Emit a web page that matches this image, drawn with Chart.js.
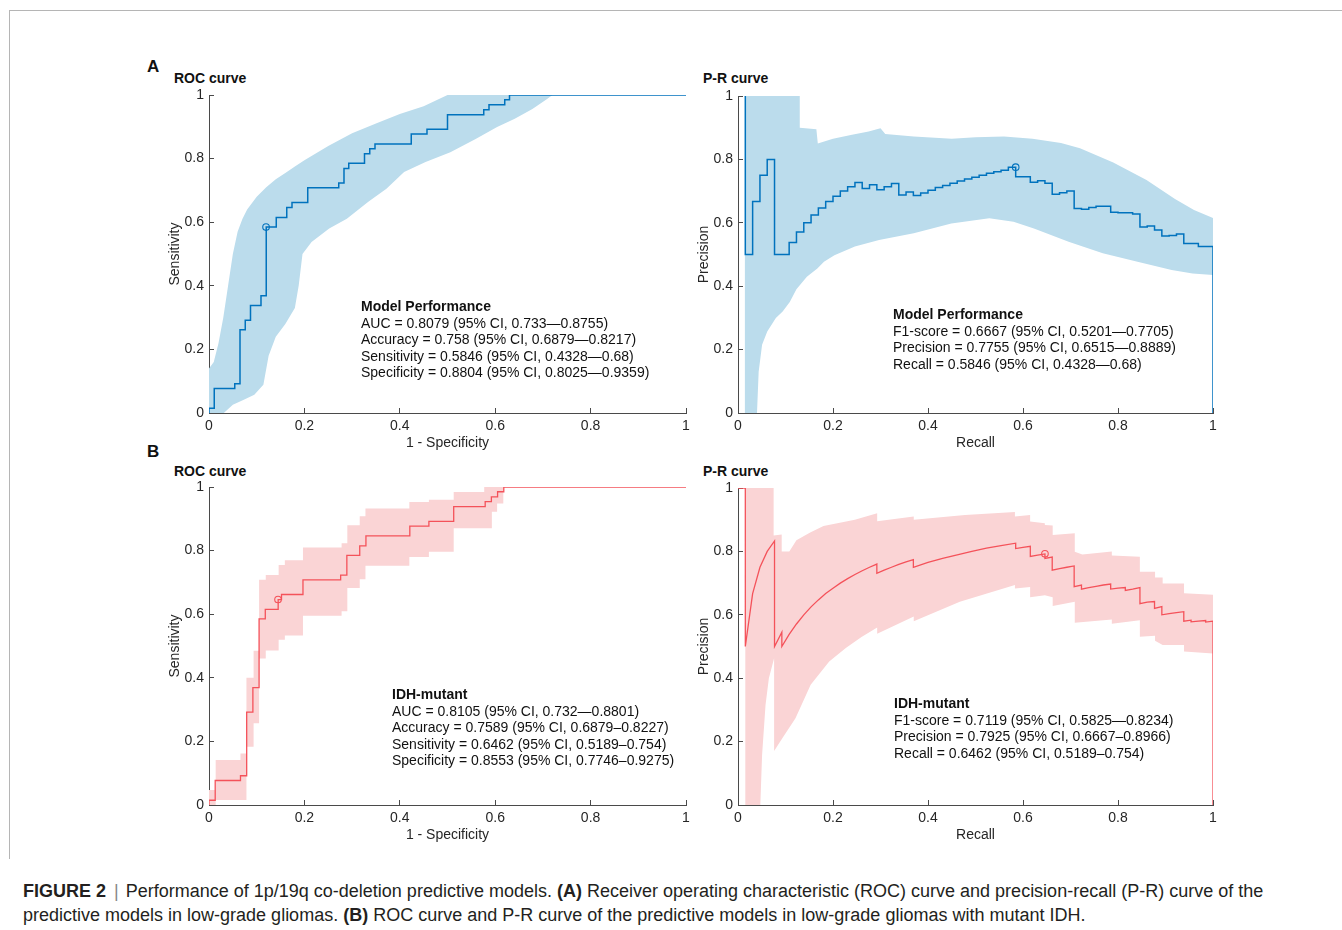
<!DOCTYPE html>
<html>

<head>
    <meta charset="utf-8">
    <title>Figure 2 - ROC and P-R curves</title>
    <script src="https://cdn.jsdelivr.net/npm/chart.js@4.4.1/dist/chart.umd.min.js"></script>
</head>

<style>
    body {
        margin: 0;
        background: #fff;
        font-family: "Liberation Sans", Arial, sans-serif;
        color: #111;
    }

    #page {
        position: relative;
        width: 1342px;
        height: 930px;
        overflow: hidden;
    }

    #frame {
        position: absolute;
        left: 9px;
        top: 10px;
        width: 1340px;
        height: 848px;
        border-left: 1px solid #b5b5b5;
        border-top: 1px solid #b5b5b5;
    }

    canvas {
        position: absolute;
    }

    .letter {
        position: absolute;
        font-weight: bold;
        font-size: 17px;
        line-height: 20px;
    }

    .ptitle {
        position: absolute;
        font-weight: bold;
        font-size: 14px;
        line-height: 16px;
    }

    .stats {
        position: absolute;
        font-size: 14px;
        line-height: 16.5px;
        white-space: pre;
    }

    #caption {
        position: absolute;
        left: 23px;
        top: 879px;
        font-size: 18px;
        line-height: 24px;
        color: #231f20;
        white-space: nowrap;
    }

    #caption .bar {
        color: #888;
        padding: 0 7px 0 8px;
    }
</style>

<body>
    <div id="page">
        <div id="frame"></div>

        <div class="letter" style="left:147px; top:57px;">A</div>
        <div class="letter" style="left:147px; top:442px;">B</div>

        <div class="ptitle" style="left:174px; top:70px;">ROC curve</div>
        <div class="ptitle" style="left:703px; top:70px;">P-R curve</div>
        <div class="ptitle" style="left:174px; top:463px;">ROC curve</div>
        <div class="ptitle" style="left:703px; top:463px;">P-R curve</div>

        <canvas id="rocA"></canvas>
        <canvas id="prA"></canvas>
        <canvas id="rocB"></canvas>
        <canvas id="prB"></canvas>

        <div class="stats" style="left:361px; top:298px;"><b>Model Performance</b>
AUC = 0.8079 (95% CI, 0.733—0.8755)
Accuracy = 0.758 (95% CI, 0.6879—0.8217)
Sensitivity = 0.5846 (95% CI, 0.4328—0.68)
Specificity = 0.8804 (95% CI, 0.8025—0.9359)</div>

        <div class="stats" style="left:893px; top:306px;"><b>Model Performance</b>
F1-score = 0.6667 (95% CI, 0.5201—0.7705)
Precision = 0.7755 (95% CI, 0.6515—0.8889)
Recall = 0.5846 (95% CI, 0.4328—0.68)</div>

        <div class="stats" style="left:392px; top:686px;"><b>IDH-mutant</b>
AUC = 0.8105 (95% CI, 0.732—0.8801)
Accuracy = 0.7589 (95% CI, 0.6879–0.8227)
Sensitivity = 0.6462 (95% CI, 0.5189–0.754)
Specificity = 0.8553 (95% CI, 0.7746–0.9275)</div>

        <div class="stats" style="left:894px; top:695px;"><b>IDH-mutant</b>
F1-score = 0.7119 (95% CI, 0.5825—0.8234)
Precision = 0.7925 (95% CI, 0.6667–0.8966)
Recall = 0.6462 (95% CI, 0.5189–0.754)</div>

        <div id="caption"><b>FIGURE 2</b><span class="bar">|</span>Performance of 1p/19q co-deletion predictive models. <b>(A)</b> Receiver operating characteristic (ROC) curve and precision-recall (P-R) curve of the<br>predictive models in low-grade gliomas. <b>(B)</b> ROC curve and P-R curve of the predictive models in low-grade gliomas with mutant IDH.</div>
    </div>

    <script>
        // tick labels shared by every axis
        const tickVals = [0, 0.2, 0.4, 0.6, 0.8, 1];

        // A: ROC curve (step points: x where the jump happens, level after it)
        const rocA_fpr = [0, 0, 0.011, 0.054, 0.065, 0.076, 0.087, 0.109, 0.120, 0.141, 0.163, 0.174, 0.207, 0.272, 0.283, 0.293, 0.326, 0.337, 0.348, 0.424, 0.457, 0.5, 0.576, 0.587, 0.62, 0.63, 1.0];
        const rocA_tpr = [0, 0.015, 0.077, 0.092, 0.262, 0.292, 0.338, 0.369, 0.585, 0.615, 0.646, 0.662, 0.708, 0.723, 0.769, 0.785, 0.815, 0.831, 0.846, 0.877, 0.892, 0.938, 0.954, 0.969, 0.985, 1.0, 1.0];
        const rocA_cut = [0.1196, 0.5846];
        // A: ROC 95% CI band
        const rocA_hiX = [0, 0.01, 0.02, 0.03, 0.04, 0.05, 0.06, 0.07, 0.08, 0.10, 0.12, 0.14, 0.16, 0.18, 0.20, 0.25, 0.30, 0.35, 0.40, 0.45, 0.50, 0.72];
        const rocA_hiY = [0.14, 0.16, 0.22, 0.30, 0.40, 0.50, 0.57, 0.61, 0.64, 0.68, 0.71, 0.735, 0.755, 0.775, 0.795, 0.84, 0.88, 0.91, 0.94, 0.965, 1.0, 1.0];
        const rocA_loX = [0, 0.031, 0.05, 0.073, 0.095, 0.114, 0.125, 0.14, 0.16, 0.18, 0.188, 0.196, 0.215, 0.252, 0.289, 0.334, 0.372, 0.409, 0.454, 0.506, 0.559, 0.604, 0.641, 0.678, 0.708, 0.72];
        const rocA_loY = [0, 0, 0.026, 0.042, 0.057, 0.089, 0.18, 0.24, 0.28, 0.33, 0.40, 0.50, 0.538, 0.58, 0.611, 0.664, 0.705, 0.758, 0.789, 0.82, 0.862, 0.899, 0.925, 0.956, 0.987, 1.0];

        // A: P-R curve (stairs)
        const prA_rec = [0.0154, 0.0154, 0.0308, 0.0462, 0.0615, 0.0769, 0.1077, 0.1231, 0.1385, 0.1538, 0.1692, 0.1846, 0.2, 0.2154, 0.2308, 0.2462, 0.2615, 0.2769, 0.2923, 0.3077, 0.3231, 0.3385, 0.3538, 0.3692, 0.3846, 0.4, 0.4154, 0.4308, 0.4462, 0.4615, 0.4769, 0.4923, 0.5077, 0.5231, 0.5385, 0.5538, 0.5692, 0.5846, 0.6154, 0.6308, 0.6462, 0.6615, 0.6769, 0.6923, 0.7077, 0.7231, 0.7385, 0.7538, 0.7846, 0.8, 0.8308, 0.8462, 0.8615, 0.8769, 0.8923, 0.9077, 0.9231, 0.9385, 0.9692, 1.0, 1.0];
        const prA_pre = [1.0, 0.5, 0.667, 0.75, 0.8, 0.5, 0.538, 0.571, 0.6, 0.625, 0.647, 0.667, 0.684, 0.7, 0.714, 0.727, 0.708, 0.72, 0.704, 0.714, 0.724, 0.6875, 0.697, 0.686, 0.694, 0.703, 0.711, 0.718, 0.725, 0.732, 0.738, 0.744, 0.75, 0.756, 0.761, 0.766, 0.7755, 0.745, 0.728, 0.733, 0.725, 0.69, 0.695, 0.70, 0.645, 0.643, 0.648, 0.652, 0.633, 0.632, 0.628, 0.587, 0.59, 0.577, 0.558, 0.56, 0.565, 0.535, 0.525, 0.525, 0];
        const prA_cut = [0.5846, 0.7755];
        const prA_hiX = [0.0145, 0.13, 0.13, 0.165, 0.168, 0.2, 0.24, 0.275, 0.30, 0.31, 0.37, 0.45, 0.5, 0.56, 0.62, 0.68, 0.72, 0.79, 0.86, 0.92, 0.96, 0.985, 1.0];
        const prA_hiY = [1, 1, 0.90, 0.895, 0.85, 0.865, 0.878, 0.888, 0.898, 0.88, 0.872, 0.865, 0.87, 0.872, 0.865, 0.852, 0.835, 0.79, 0.735, 0.675, 0.64, 0.625, 0.615];
        const prA_loX = [0.0145, 0.04, 0.0435, 0.0507, 0.0616, 0.0797, 0.094, 0.109, 0.123, 0.145, 0.167, 0.181, 0.203, 0.246, 0.297, 0.37, 0.449, 0.529, 0.58, 0.623, 0.696, 0.768, 0.841, 0.913, 0.957, 1.0];
        const prA_loY = [0, 0, 0.13, 0.215, 0.257, 0.30, 0.32, 0.35, 0.39, 0.43, 0.456, 0.477, 0.498, 0.525, 0.546, 0.567, 0.598, 0.614, 0.603, 0.582, 0.54, 0.504, 0.477, 0.451, 0.44, 0.435];

        // B: ROC curve, IDH-mutant
        const rocB_fpr = [0, 0, 0.013, 0.066, 0.079, 0.092, 0.105, 0.118, 0.145, 0.152, 0.197, 0.276, 0.289, 0.316, 0.329, 0.421, 0.461, 0.513, 0.579, 0.592, 0.605, 0.618, 1.0];
        const rocB_tpr = [0, 0.015, 0.077, 0.092, 0.292, 0.369, 0.585, 0.615, 0.646, 0.662, 0.708, 0.723, 0.785, 0.815, 0.846, 0.877, 0.892, 0.938, 0.954, 0.969, 0.985, 1.0, 1.0];
        const rocB_cut = [0.1447, 0.6462];
        // B: ROC band, blocky: breakpoints and the upper / lower level on each interval
        const rocB_bandX = [0, 0.014, 0.066, 0.0785, 0.0935, 0.105, 0.119, 0.146, 0.159, 0.197, 0.278, 0.29, 0.316, 0.328, 0.42, 0.461, 0.513, 0.577, 0.593, 0.604, 0.617, 1];
        const rocB_bandHi = [0.047, 0.1415, 0.162, 0.40, 0.485, 0.708, 0.723, 0.755, 0.77, 0.81, 0.823, 0.88, 0.908, 0.932, 0.953, 0.96, 0.984, 1, 1, 1, 1];
        const rocB_bandLo = [0, 0.0157, 0.0157, 0.183, 0.257, 0.461, 0.486, 0.52, 0.533, 0.595, 0.609, 0.682, 0.71, 0.752, 0.78, 0.796, 0.87, 0.87, 0.922, 0.948, 1];

        // B: P-R curve (polyline)
        const prB_rec = [0, 0.0154, 0.0154, 0.0308, 0.0462, 0.0615, 0.0769, 0.0769, 0.0923, 0.0923, 0.1077, 0.1231, 0.1385, 0.1538, 0.1692, 0.1846, 0.2, 0.2154, 0.2308, 0.2462, 0.2615, 0.2769, 0.2923, 0.2923, 0.3077, 0.3231, 0.3385, 0.3538, 0.3692, 0.3692, 0.4, 0.4308, 0.4615, 0.4923, 0.5231, 0.5538, 0.5846, 0.5846, 0.6, 0.6154, 0.6154, 0.6308, 0.6462, 0.6462, 0.6615, 0.6615, 0.6769, 0.6923, 0.7077, 0.7077, 0.7231, 0.7231, 0.7385, 0.7538, 0.7692, 0.7846, 0.7846, 0.8, 0.8154, 0.8154, 0.8308, 0.8462, 0.8462, 0.8615, 0.8769, 0.8769, 0.8923, 0.8923, 0.9077, 0.9231, 0.9385, 0.9385, 0.9538, 0.9538, 0.9692, 0.9846, 0.9846, 1, 1];
        const prB_pre = [1, 1, 0.5, 0.667, 0.75, 0.8, 0.833, 0.5, 0.545, 0.5, 0.538, 0.571, 0.6, 0.625, 0.647, 0.667, 0.684, 0.7, 0.714, 0.727, 0.739, 0.75, 0.76, 0.731, 0.741, 0.75, 0.759, 0.767, 0.774, 0.75, 0.765, 0.778, 0.789, 0.8, 0.81, 0.818, 0.826, 0.809, 0.813, 0.816, 0.784, 0.788, 0.792, 0.778, 0.782, 0.741, 0.746, 0.75, 0.754, 0.689, 0.694, 0.681, 0.686, 0.69, 0.694, 0.697, 0.681, 0.684, 0.686, 0.677, 0.681, 0.686, 0.635, 0.64, 0.642, 0.62, 0.626, 0.6, 0.604, 0.607, 0.61, 0.58, 0.583, 0.578, 0.58, 0.582, 0.577, 0.58, 0];
        const prB_cut = [0.6462, 0.7925];
        const prB_hiX = [0.0154, 0.075, 0.075, 0.092, 0.092, 0.108, 0.123, 0.152, 0.18, 0.246, 0.293, 0.293, 0.37, 0.37, 0.478, 0.583, 0.583, 0.615, 0.615, 0.646, 0.646, 0.6625, 0.6625, 0.709, 0.709, 0.725, 0.787, 0.787, 0.846, 0.846, 0.878, 0.878, 0.894, 0.894, 0.939, 0.939, 1.0];
        const prB_hiY = [1, 1, 0.85, 0.853, 0.80, 0.80, 0.835, 0.86, 0.88, 0.90, 0.92, 0.895, 0.91, 0.90, 0.915, 0.924, 0.91, 0.915, 0.894, 0.889, 0.883, 0.882, 0.852, 0.857, 0.799, 0.79, 0.80, 0.787, 0.783, 0.736, 0.736, 0.718, 0.718, 0.699, 0.699, 0.668, 0.663];
        const prB_loX = [0.0154, 0.047, 0.0507, 0.058, 0.065, 0.076, 0.076, 0.093, 0.121, 0.153, 0.192, 0.227, 0.26, 0.293, 0.293, 0.37, 0.37, 0.467, 0.583, 0.583, 0.615, 0.615, 0.646, 0.6625, 0.6625, 0.709, 0.709, 0.787, 0.787, 0.846, 0.846, 0.878, 0.878, 0.894, 0.939, 0.939, 1.0];
        const prB_loY = [0, 0, 0.158, 0.316, 0.40, 0.463, 0.17, 0.21, 0.274, 0.379, 0.453, 0.495, 0.53, 0.56, 0.54, 0.595, 0.58, 0.641, 0.694, 0.683, 0.688, 0.655, 0.662, 0.655, 0.628, 0.641, 0.575, 0.585, 0.572, 0.583, 0.531, 0.534, 0.518, 0.505, 0.505, 0.484, 0.478];

        const BLUE = "#0072BD";
        const BLUE_BAND = "#BBDCEC";
        const RED = "#F4525A";
        const RED_BAND = "#FAD4D5";
        const AXIS = "#4a4a4a";

        Chart.defaults.font.family = "'Liberation Sans', Arial, sans-serif";
        Chart.defaults.font.size = 14;
        Chart.defaults.color = "#262626";

        function pts(xs, ys) {
            return xs.map((x, i) => ({ x: x, y: ys[i] }));
        }

        // closed outline: upper edge left to right, lower edge back
        function loop(hx, hy, lx, ly) {
            const p = pts(hx, hy);
            for (let i = lx.length - 1; i >= 0; i--) p.push({ x: lx[i], y: ly[i] });
            return p;
        }

        // same thing for a band given as flat levels between breakpoints
        function stepLoop(xs, hi, lo) {
            const p = [];
            for (let i = 0; i < hi.length; i++) {
                p.push({ x: xs[i], y: hi[i] }, { x: xs[i + 1], y: hi[i] });
            }
            for (let i = lo.length - 1; i >= 0; i--) {
                p.push({ x: xs[i + 1], y: lo[i] }, { x: xs[i], y: lo[i] });
            }
            return p;
        }

        function axis(title, isY) {
            return {
                type: "linear",
                min: 0,
                max: 1,
                afterBuildTicks: (s) => { s.ticks = tickVals.map(v => ({ value: v })); },
                afterFit: (s) => { if (isY) s.width = 59; else s.height = 40; },
                border: { display: true, color: AXIS, width: 1 },
                grid: { display: true, drawOnChartArea: false, drawTicks: true, tickLength: -5, color: AXIS, lineWidth: 1 },
                ticks: {
                    padding: 10,
                    color: "#262626",
                    font: { size: 14 },
                    callback: (v) => String(+Number(v).toFixed(1))
                },
                title: {
                    display: true,
                    text: title,
                    color: "#262626",
                    font: { size: 14 },
                    padding: isY ? { top: 17, bottom: 0 } : { top: 0, bottom: 1 }
                }
            };
        }

        // area = [left, top, right, bottom] of the plot box on the page
        function panel(id, area, xTitle, yTitle, color, bandColor, curve, stepped, band, cut, lineWidth) {
            const cv = document.getElementById(id);
            const left = area[0] - 59, top = area[1] - 20;
            cv.style.left = left + "px";
            cv.style.top = top + "px";
            cv.width = area[2] + 15 - left;
            cv.height = area[3] + 40 - top;

            return new Chart(cv.getContext("2d"), {
                type: "scatter",
                data: {
                    datasets: [
                        {
                            data: [{ x: cut[0], y: cut[1] }],
                            showLine: false,
                            pointRadius: 3.3,
                            pointBorderWidth: 1.1,
                            pointBorderColor: color,
                            pointBackgroundColor: "rgba(0,0,0,0)"
                        },
                        {
                            data: curve,
                            showLine: true,
                            stepped: stepped,
                            borderColor: color,
                            borderWidth: lineWidth,
                            pointRadius: 0,
                            fill: false
                        },
                        {
                            data: band,
                            showLine: true,
                            borderColor: "rgba(0,0,0,0)",
                            borderWidth: 0,
                            pointRadius: 0,
                            backgroundColor: bandColor,
                            fill: "shape"
                        }
                    ]
                },
                options: {
                    responsive: false,
                    animation: false,
                    events: [],
                    // room for the half-height of the top tick label plus its padding
                    layout: { padding: { left: 0, top: 20, right: 15, bottom: 0 } },
                    plugins: { legend: { display: false }, tooltip: { enabled: false } },
                    scales: { x: axis(xTitle, false), y: axis(yTitle, true) }
                }
            });
        }

        panel("rocA", [209, 95, 686, 413], "1 - Specificity", "Sensitivity", BLUE, BLUE_BAND,
            pts(rocA_fpr, rocA_tpr), "before", loop(rocA_hiX, rocA_hiY, rocA_loX, rocA_loY), rocA_cut, 1.5);

        panel("prA", [738, 96, 1213, 413], "Recall", "Precision", BLUE, BLUE_BAND,
            pts(prA_rec, prA_pre), "before", loop(prA_hiX, prA_hiY, prA_loX, prA_loY), prA_cut, 1.5);

        panel("rocB", [209, 487, 686, 805], "1 - Specificity", "Sensitivity", RED, RED_BAND,
            pts(rocB_fpr, rocB_tpr), "before", stepLoop(rocB_bandX, rocB_bandHi, rocB_bandLo), rocB_cut, 1.3);

        panel("prB", [738, 488, 1213, 805], "Recall", "Precision", RED, RED_BAND,
            pts(prB_rec, prB_pre), false, loop(prB_hiX, prB_hiY, prB_loX, prB_loY), prB_cut, 1.3);
    </script>
</body>

</html>
